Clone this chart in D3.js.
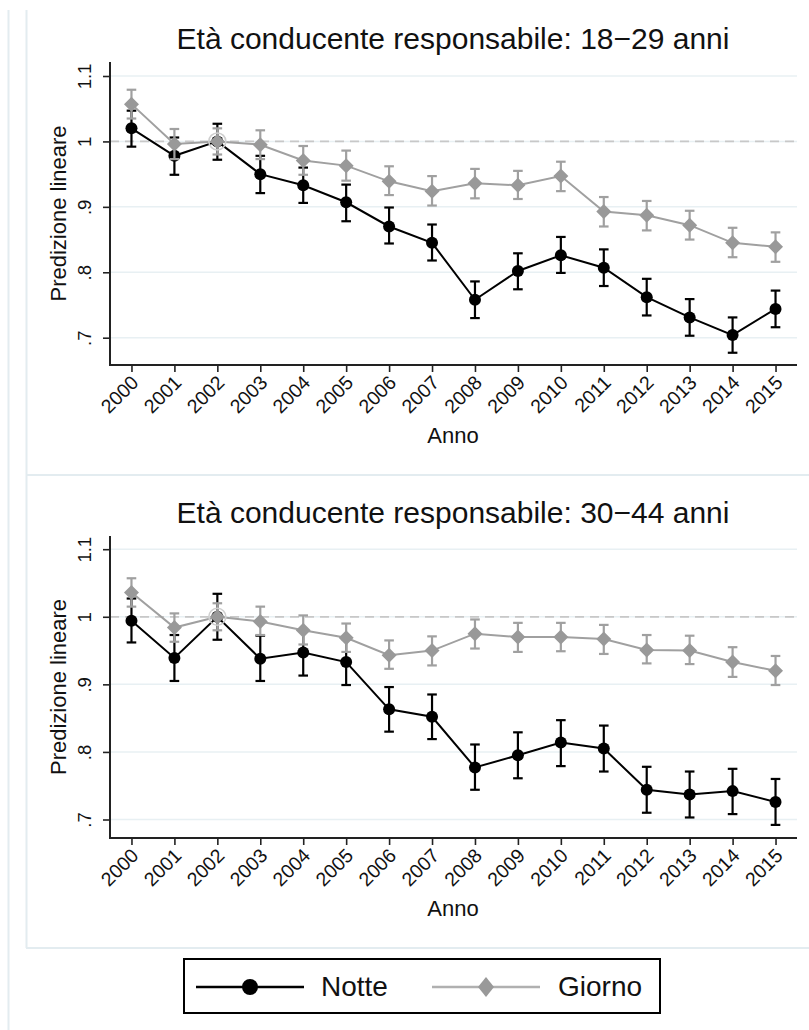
<!DOCTYPE html>
<html>
<head>
<meta charset="utf-8">
<script src="https://cdn.jsdelivr.net/npm/d3@7"></script>
<style>
  body { margin: 0; background: #fff; }
  svg { font-family: "Liberation Sans", Arial, sans-serif; display: block; }
</style>
</head>
<body>
<svg id="chart" width="809" height="1030"></svg>
<script>
// anni sull'asse x
var years = [2000, 2001, 2002, 2003, 2004, 2005, 2006, 2007, 2008, 2009, 2010, 2011, 2012, 2013, 2014, 2015];

// 18-29 anni
var notte1829   = [1.020, 0.978, 1.000, 0.950, 0.933, 0.907, 0.870, 0.845, 0.758, 0.802, 0.826, 0.807, 0.762, 0.731, 0.704, 0.744];
var notte1829Lo = [0.992, 0.949, 0.972, 0.921, 0.906, 0.878, 0.844, 0.818, 0.730, 0.774, 0.799, 0.779, 0.734, 0.703, 0.677, 0.716];
var notte1829Hi = [1.047, 1.006, 1.027, 0.978, 0.960, 0.934, 0.899, 0.873, 0.786, 0.829, 0.854, 0.835, 0.790, 0.759, 0.731, 0.772];
var giorno1829   = [1.057, 0.996, 1.000, 0.995, 0.971, 0.963, 0.939, 0.924, 0.936, 0.933, 0.947, 0.893, 0.887, 0.872, 0.845, 0.839];
var giorno1829Lo = [1.035, 0.973, 0.980, 0.973, 0.949, 0.940, 0.918, 0.902, 0.913, 0.912, 0.924, 0.870, 0.864, 0.850, 0.823, 0.816];
var giorno1829Hi = [1.079, 1.019, 1.020, 1.017, 0.993, 0.986, 0.962, 0.947, 0.958, 0.955, 0.969, 0.915, 0.909, 0.894, 0.868, 0.861];

// 30-44 anni
var notte3044   = [0.994, 0.939, 1.000, 0.938, 0.947, 0.933, 0.863, 0.852, 0.777, 0.795, 0.814, 0.805, 0.744, 0.737, 0.742, 0.726];
var notte3044Lo = [0.962, 0.905, 0.966, 0.905, 0.913, 0.899, 0.830, 0.819, 0.744, 0.761, 0.779, 0.771, 0.710, 0.703, 0.708, 0.692];
var notte3044Hi = [1.027, 0.973, 1.034, 0.972, 0.981, 0.967, 0.896, 0.885, 0.811, 0.829, 0.847, 0.839, 0.778, 0.771, 0.775, 0.760];
var giorno3044   = [1.036, 0.984, 1.000, 0.993, 0.980, 0.969, 0.943, 0.950, 0.975, 0.970, 0.970, 0.967, 0.951, 0.950, 0.933, 0.920];
var giorno3044Lo = [1.015, 0.963, 0.980, 0.973, 0.959, 0.948, 0.923, 0.928, 0.953, 0.948, 0.949, 0.945, 0.931, 0.930, 0.911, 0.899];
var giorno3044Hi = [1.057, 1.005, 1.020, 1.015, 1.002, 0.990, 0.965, 0.971, 0.996, 0.991, 0.991, 0.988, 0.973, 0.972, 0.955, 0.942];

var yTicks = [0.7, 0.8, 0.9, 1, 1.1];
var yTickLabels = [".7", ".8", ".9", "1", "1.1"];
var seriesNames = ["Notte", "Giorno"];
var baseYear = 2002;

var svg = d3.select("#chart");
var frameColor = "#e3ecf0", gridColor = "#e8f0f3";
var black = "#000", grey = "#a0a0a0", greyMark = "#999999";

// cornici del grafico combinato
svg.append("line").attr("x1", 8.5).attr("x2", 8.5).attr("y1", 10).attr("y2", 1030)
   .attr("stroke", frameColor).attr("stroke-width", 2);
svg.append("line").attr("x1", 26.5).attr("x2", 26.5).attr("y1", 10).attr("y2", 948)
   .attr("stroke", frameColor).attr("stroke-width", 2);
[475, 948].forEach(function(y) {
  svg.append("line").attr("x1", 26).attr("x2", 809).attr("y1", y).attr("y2", y)
     .attr("stroke", frameColor).attr("stroke-width", 2);
});

var x = d3.scaleLinear().domain([1999.5, 2015.5]).range([110, 797]);

function panel(opt) {
  var g = svg.append("g");
  var y = d3.scaleLinear().domain([0.7, 1.1]).range([opt.y07, opt.y11]);

  // griglia
  g.selectAll(".grid").data(yTicks).enter().append("line")
      .attr("x1", 110).attr("x2", 797)
      .attr("y1", function(d) { return y(d); })
      .attr("y2", function(d) { return y(d); })
      .attr("stroke", gridColor).attr("stroke-width", 1.5);

  // linea di riferimento a 1
  g.append("line").attr("x1", 110).attr("x2", 797).attr("y1", y(1)).attr("y2", y(1))
      .attr("stroke", "#c8c8c8").attr("stroke-width", 1.8).attr("stroke-dasharray", "9,6");

  // asse y
  var yAxis = g.append("g").attr("transform", "translate(110,0)")
      .call(d3.axisLeft(y).tickValues(yTicks).tickSize(7)
              .tickFormat(function(d, i) { return yTickLabels[i]; }));
  yAxis.select(".domain").remove();
  yAxis.selectAll(".tick line").attr("stroke", "#222").attr("stroke-width", 1.6);
  yAxis.selectAll(".tick text")
      .attr("transform", "rotate(-90)").attr("x", 0).attr("y", -19).attr("dy", 0)
      .attr("text-anchor", "middle").style("font-size", "18.5px").attr("fill", "#111");
  g.append("line").attr("x1", 110).attr("x2", 110).attr("y1", opt.top).attr("y2", opt.bottom)
      .attr("stroke", "#222").attr("stroke-width", 2);

  // asse x
  var xAxis = g.append("g").attr("transform", "translate(0," + opt.bottom + ")")
      .call(d3.axisBottom(x).tickValues(years).tickSize(7).tickFormat(d3.format("d")));
  xAxis.select(".domain").remove();
  xAxis.selectAll(".tick line").attr("stroke", "#222").attr("stroke-width", 1.6);
  xAxis.selectAll(".tick text")
      .attr("transform", "translate(3,14) rotate(-45)").attr("x", 0).attr("y", 0).attr("dy", "0.35em")
      .attr("text-anchor", "end").style("font-size", "19.5px").attr("fill", "#111");
  g.append("line").attr("x1", 109).attr("x2", 797).attr("y1", opt.bottom).attr("y2", opt.bottom)
      .attr("stroke", "#222").attr("stroke-width", 2);

  // titoli
  g.append("text").attr("x", 453).attr("y", opt.top - 13).attr("text-anchor", "middle")
      .attr("font-size", 30).attr("fill", "#111").text(opt.title);
  g.append("text").attr("x", 453).attr("y", opt.bottom + 78).attr("text-anchor", "middle")
      .attr("font-size", 22).attr("fill", "#111").text("Anno");
  g.append("text").attr("transform", "translate(66," + ((opt.top + opt.bottom) / 2) + ") rotate(-90)")
      .attr("text-anchor", "middle").attr("font-size", 22).attr("fill", "#111").text("Predizione lineare");

  function series(vals, lo, hi, color, markColor, marker) {
    var pts = years.map(function(yr, i) { return { yr: yr, v: vals[i], lo: lo[i], hi: hi[i] }; });
    var s = g.append("g");
    s.append("path").datum(pts)
        .attr("fill", "none").attr("stroke", color).attr("stroke-width", 2)
        .attr("d", d3.line().x(function(d) { return x(d.yr); }).y(function(d) { return y(d.v); }));
    var eb = s.selectAll(".eb").data(pts).enter().append("g").attr("stroke", color).attr("stroke-width", 2.2);
    eb.append("line").attr("x1", function(d) { return x(d.yr); }).attr("x2", function(d) { return x(d.yr); })
        .attr("y1", function(d) { return y(d.lo); }).attr("y2", function(d) { return y(d.hi); });
    eb.append("line").attr("x1", function(d) { return x(d.yr) - 4.8; }).attr("x2", function(d) { return x(d.yr) + 4.8; })
        .attr("y1", function(d) { return y(d.lo); }).attr("y2", function(d) { return y(d.lo); });
    eb.append("line").attr("x1", function(d) { return x(d.yr) - 4.8; }).attr("x2", function(d) { return x(d.yr) + 4.8; })
        .attr("y1", function(d) { return y(d.hi); }).attr("y2", function(d) { return y(d.hi); });
    s.selectAll(".m").data(pts).enter().append("path")
        .attr("transform", function(d) { return "translate(" + x(d.yr) + "," + y(d.v) + ")"; })
        .attr("d", marker).attr("fill", markColor);
  }

  series(opt.notte, opt.notteLo, opt.notteHi, black, black, circlePath);
  series(opt.giorno, opt.giornoLo, opt.giornoHi, grey, greyMark, diamondPath);

  // anno base
  g.append("circle").attr("cx", x(baseYear)).attr("cy", y(1)).attr("r", 8.5)
      .attr("fill", "none").attr("stroke", "#cfcfcf").attr("stroke-width", 1.6);
}

var circlePath = "M-6,0A6,6 0 1,0 6,0A6,6 0 1,0 -6,0Z";
var diamondPath = "M0,-7.5L7.5,0L0,7.5L-7.5,0Z";

panel({
  title: "Età conducente responsabile: 18\u221229 anni",
  top: 62, bottom: 365, y07: 337.7, y11: 76,
  notte: notte1829, notteLo: notte1829Lo, notteHi: notte1829Hi,
  giorno: giorno1829, giornoLo: giorno1829Lo, giornoHi: giorno1829Hi
});
panel({
  title: "Età conducente responsabile: 30\u221244 anni",
  top: 536, bottom: 838, y07: 819.5, y11: 549.2,
  notte: notte3044, notteLo: notte3044Lo, notteHi: notte3044Hi,
  giorno: giorno3044, giornoLo: giorno3044Lo, giornoHi: giorno3044Hi
});

// legenda
var leg = svg.append("g");
leg.append("rect").attr("x", 184).attr("y", 959).attr("width", 476).attr("height", 54)
    .attr("fill", "#fff").attr("stroke", "#000").attr("stroke-width", 2);
var legItems = [
  { name: seriesNames[0], x0: 196, color: black, mark: black, path: "M-8,0A8,8 0 1,0 8,0A8,8 0 1,0 -8,0Z", tx: 321 },
  { name: seriesNames[1], x0: 432, color: "#b0b0b0", mark: greyMark, path: "M0,-10L8,0L0,10L-8,0Z", tx: 558 }
];
legItems.forEach(function(it) {
  leg.append("line").attr("x1", it.x0).attr("x2", it.x0 + 108).attr("y1", 987).attr("y2", 987)
      .attr("stroke", it.color).attr("stroke-width", 2.6);
  leg.append("path").attr("transform", "translate(" + (it.x0 + 54) + ",987)").attr("d", it.path).attr("fill", it.mark);
  leg.append("text").attr("x", it.tx).attr("y", 996).attr("font-size", 28).attr("fill", "#111").text(it.name);
});
</script>
</body>
</html>
